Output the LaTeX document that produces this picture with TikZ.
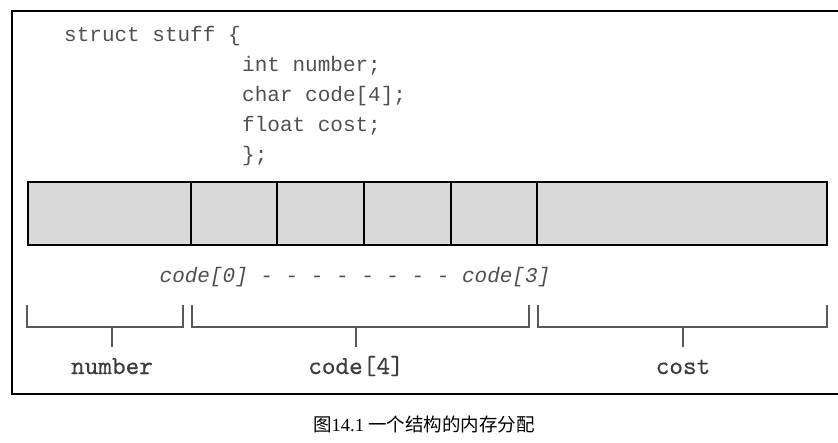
\documentclass[tikz,border=0pt]{standalone}
\usepackage{fontspec}
\newfontfamily\codefont{Liberation Mono}
\newfontfamily\fieldfont{lmmono10-regular}[Extension=.otf,FakeBold=0.4]
\newfontfamily\capfont{Liberation Serif}
\newfontfamily\cjk{Noto Sans CJK SC}
\usepackage{tikz}
\usetikzlibrary{positioning,calc}

\definecolor{cellfill}{HTML}{D9D9D9}
\definecolor{ink}{HTML}{3C3C3C}

\begin{document}
\begin{tikzpicture}[x=1pt,y=-1pt,
  cell/.style={draw,line width=2.5pt,fill=cellfill,minimum height=63pt,inner sep=0pt,outer sep=0pt},
  codeline/.style={anchor=base west,inner sep=0pt,text=ink!90,font=\fontsize{21}{25}\codefont},
  bracket/.style={line width=1.3pt,draw=ink!85},
  fieldname/.style={anchor=base,inner sep=0pt,text height=18pt,text depth=5pt,text=ink,font=\fontsize{26}{30}\fieldfont}]
\useasboundingbox (0,0) rectangle (838,442);

% Frame (open on the right)
\draw[line width=1.8pt] (838,11) -- (12,11) -- (12,394) -- (838,394);

% Struct declaration
\node[codeline] (l1) at (64,41) {struct stuff \{};
\node[codeline] (l2) at (242,71) {int number;};
\node[codeline] (l3) at (242,101) {char code[4];};
\node[codeline] (l4) at (242,131) {float cost;};
\node[codeline] (l5) at (242,161) {\};};

% Memory layout
\node[cell,anchor=north west,minimum width=163pt] (num) at (28,182) {};
\node[cell,minimum width=86pt,right=0pt of num] (c0) {};
\node[cell,minimum width=87pt,right=0pt of c0] (c1) {};
\node[cell,minimum width=87pt,right=0pt of c1] (c2) {};
\node[cell,minimum width=86pt,right=0pt of c2] (c3) {};
\node[cell,minimum width=290pt,right=0pt of c3] (cst) {};

% Element range
\node[codeline,anchor=base,font=\fontsize{21}{25}\codefont\itshape] (range) at (355,282) {code[0] - - - - - - - - code[3]};

% Brackets
\draw[bracket] (27,305) -- (27,327) -- (183,327) -- (183,305);
\draw[bracket] (192,305) -- (192,327) -- (529,327) -- (529,305);
\draw[bracket] (538,305) -- (538,327) -- (827,327) -- (827,305);

% Labels
\node[fieldname] (lnum) at (112,374) {number};
\node[fieldname] (lcode) at (356,374) {code[4]};
\node[fieldname] (lcost) at (683,374) {cost};
\draw[bracket,shorten >=9pt] (112,327) -- (lnum.north);
\draw[bracket,shorten >=9pt] (356,327) -- (lcode.north);
\draw[bracket,shorten >=9pt] (683,327) -- (lcost.north);

% Caption
\node[font=\fontsize{18.5}{22}\cjk,inner sep=0pt] (caption) at (424,424) {图{\capfont 14.1} 一个结构的内存分配};
\end{tikzpicture}
\end{document}
